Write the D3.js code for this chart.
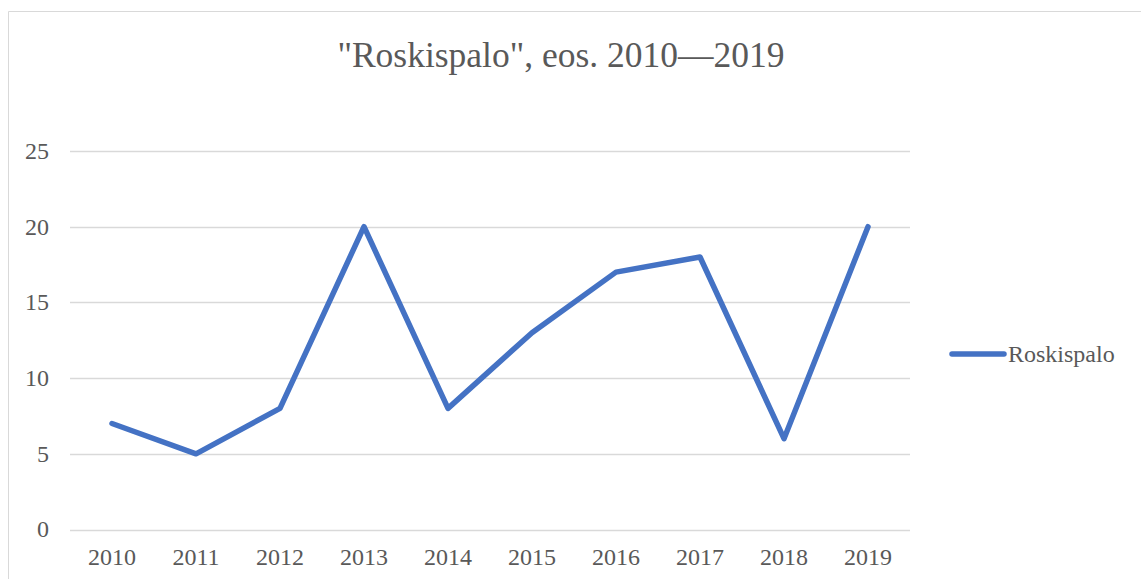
<!DOCTYPE html>
<html>
<head>
<meta charset="utf-8">
<script src="https://cdn.jsdelivr.net/npm/d3@7"></script>
<style>
  body { margin: 0; background: #fff; }
</style>
</head>
<body>
<svg id="chart"></svg>
<script>
/* chart data */
const years = ["2010", "2011", "2012", "2013", "2014", "2015", "2016", "2017", "2018", "2019"];
const roskispalo = [7, 5, 8, 20, 8, 13, 17, 18, 6, 20];
const yTicks = [0, 5, 10, 15, 20, 25];
const seriesName = "Roskispalo";
const title = "\"Roskispalo\", eos. 2010\u20142019";

const width = 1141;
const height = 579;
const font = "Liberation Serif";
const textColor = "#595959";

const svg = d3.select('#chart')
  .attr('width', width)
  .attr('height', height);

// chart border (left + top visible)
svg.append('path')
  .attr('d', `M8.5,${height} V11.5 H${width}`)
  .attr('fill', 'none')
  .attr('stroke', '#d9d9d9')
  .attr('stroke-width', 1);

const plot = { left: 70, right: 910, top: 151, bottom: 529.5 };

const x = d3.scaleBand()
  .domain(years)
  .range([plot.left, plot.right]);

const y = d3.scaleLinear()
  .domain([0, 25])
  .range([plot.bottom, plot.top]);

// gridlines
svg.append('g')
  .selectAll('line')
  .data(yTicks)
  .enter().append('line')
    .attr('x1', plot.left)
    .attr('x2', plot.right)
    .attr('y1', d => Math.round(y(d)) + 0.5)
    .attr('y2', d => Math.round(y(d)) + 0.5)
    .attr('stroke', '#d9d9d9')
    .attr('stroke-width', 1.3);

// y labels
svg.append('g')
  .selectAll('text')
  .data(yTicks)
  .enter().append('text')
    .attr('x', 49)
    .attr('y', d => y(d))
    .attr('dy', '0.33em')
    .attr('text-anchor', 'end')
    .attr('font-family', font)
    .attr('fill', textColor)
    .attr('font-size', 24)
    .text(d => d);

// x labels
svg.append('g')
  .selectAll('text')
  .data(years)
  .enter().append('text')
    .attr('x', d => x(d) + x.bandwidth() / 2)
    .attr('y', 565)
    .attr('text-anchor', 'middle')
    .attr('font-family', font)
    .attr('fill', textColor)
    .attr('font-size', 24)
    .text(d => d);

// line
const line = d3.line()
  .x((d, i) => x(years[i]) + x.bandwidth() / 2)
  .y(d => y(d));

svg.append('path')
  .datum(roskispalo)
  .attr('d', line)
  .attr('fill', 'none')
  .attr('stroke', '#4472c4')
  .attr('stroke-width', 5.5)
  .attr('stroke-linejoin', 'round')
  .attr('stroke-linecap', 'round');

// title
svg.append('text')
  .attr('x', 561)
  .attr('y', 67)
  .attr('text-anchor', 'middle')
  .attr('font-family', font)
  .attr('fill', textColor)
  .attr('font-size', 35.5)
  .text(title);

// legend
const legend = svg.append('g');
legend.append('line')
  .attr('x1', 952).attr('x2', 1004)
  .attr('y1', 354).attr('y2', 354)
  .attr('stroke', '#4472c4')
  .attr('stroke-width', 5.5)
  .attr('stroke-linecap', 'round');
legend.append('text')
  .attr('x', 1008)
  .attr('y', 354)
  .attr('dy', '0.33em')
  .attr('font-family', font)
  .attr('fill', textColor)
  .attr('font-size', 24)
  .text(seriesName);
</script>
</body>
</html>
